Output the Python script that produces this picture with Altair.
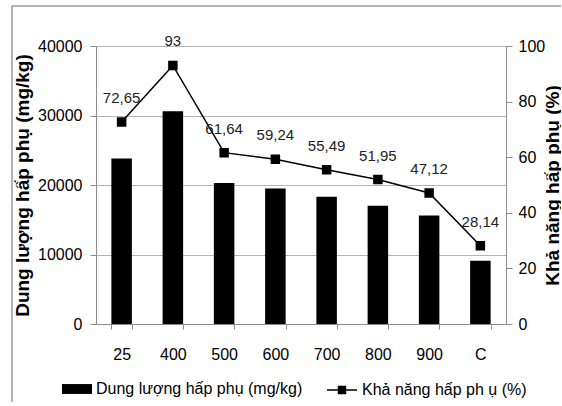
import altair as alt
import pandas as pd

# Adsorption data per sample
samples = ["25", "400", "500", "600", "700", "800", "900", "C"]
capacity = [23800, 30600, 20300, 19500, 18300, 17000, 15600, 9100]   # mg/kg
efficiency = [72.65, 93, 61.64, 59.24, 55.49, 51.95, 47.12, 28.14]   # %

bar_name = "Dung lượng hấp phụ (mg/kg)"
line_name = "Khả năng hấp ph ụ (%)"

df = pd.DataFrame({
    "sample": samples,
    "capacity": capacity,
    "efficiency": efficiency,
    "label": [f"{v:g}".replace(".", ",") for v in efficiency],
})

FONT = "Liberation Sans"
GRID = "#b3b3b3"
AXIS = "#8c8c8c"

x_enc = alt.X(
    "sample:N", sort=samples, title=None,
    scale=alt.Scale(paddingInner=0.6, paddingOuter=0.3),
    axis=alt.Axis(labelAngle=0, tickBand="extent", tickSize=5, tickColor=AXIS,
                  domainColor=AXIS, labelFont=FONT, labelFontSize=16,
                  labelColor="#000", labelPadding=17, grid=False),
)

bars = alt.Chart(df).mark_bar(color="black").encode(
    x=x_enc,
    y=alt.Y("capacity:Q", scale=alt.Scale(domain=[0, 40000], nice=False),
            axis=alt.Axis(title="Dung lượng hấp phụ (mg/kg)", values=[0, 10000, 20000, 30000, 40000],
                          orient="left", grid=True, gridColor=GRID, domainColor=AXIS,
                          tickColor=AXIS, tickSize=6, labelFont=FONT, labelFontSize=16,
                          labelColor="#000", labelPadding=8, format="d",
                          titleFont=FONT, titleFontSize=19, titleFontWeight="bold",
                          titleColor="#000", titlePadding=5)),
    color=alt.Color("s:N", scale=alt.Scale(domain=[bar_name], range=["black"]),
                    legend=alt.Legend(title=None, orient="none", legendX=-34, legendY=328,
                                      symbolType="M-1,-0.33H1V0.33H-1Z", symbolSize=900,
                                      symbolStrokeWidth=0, labelFont=FONT, labelFontSize=16,
                                      labelColor="#000", labelOffset=4, labelLimit=0)),
).transform_calculate(s=f"'{bar_name}'")

y_right = alt.Y("efficiency:Q", scale=alt.Scale(domain=[0, 100], nice=False),
                axis=alt.Axis(title="Khả năng hấp phụ (%)", values=[0, 20, 40, 60, 80, 100],
                              orient="right", grid=False, domainColor=AXIS, tickColor=AXIS,
                              tickSize=6, labelFont=FONT, labelFontSize=16, labelColor="#000",
                              labelPadding=6, titleFont=FONT, titleFontSize=19,
                              titleFontWeight="bold", titleColor="#000", titleAngle=270,
                              titleBaseline="middle", titleAlign="center",
                              titleX=46, titleY=139))

line = alt.Chart(df).mark_line(
    color="black", strokeWidth=1.5,
    point=alt.OverlayMarkDef(shape="square", size=56, filled=True, color="black"),
).encode(
    x=alt.X("sample:N", sort=samples),
    y=y_right,
    stroke=alt.Stroke("s:N", scale=alt.Scale(domain=[line_name], range=["black"]),
                      legend=alt.Legend(title=None, orient="none", legendX=230, legendY=328,
                                        symbolType="M-1,0H1M-0.23,-0.23H0.23V0.23H-0.23Z",
                                        symbolSize=900, symbolStrokeWidth=1.5,
                                        symbolFillColor="black", symbolStrokeColor="black",
                                        labelFont=FONT, labelFontSize=16, labelColor="#000",
                                        labelOffset=4, labelLimit=0)),
).transform_calculate(s=f"'{line_name}'")

labels = alt.Chart(df).mark_text(dy=-24, font=FONT, fontSize=15, color="#222").encode(
    x=alt.X("sample:N", sort=samples),
    y=y_right,
    text="label:N",
)

# outer frame of the figure
frame = alt.Chart(pd.DataFrame({"k": [0]})).mark_rect(
    fill=None, stroke="#9a9a9a", strokeWidth=1.5
).encode(x=alt.value(-84), x2=alt.value(620), y=alt.value(-40), y2=alt.value(420))

right = alt.layer(line, labels)

chart = alt.layer(frame, bars, right).resolve_scale(
    y="independent", color="independent", stroke="independent"
).properties(
    width=410, height=278,
    autosize=alt.AutoSizeParams(type="none"),
    padding={"left": 96, "top": 46, "right": 55, "bottom": 78},
    background="white",
).configure_view(stroke=None)

chart.save("out.html", embed_options={"renderer": "svg", "actions": False})
